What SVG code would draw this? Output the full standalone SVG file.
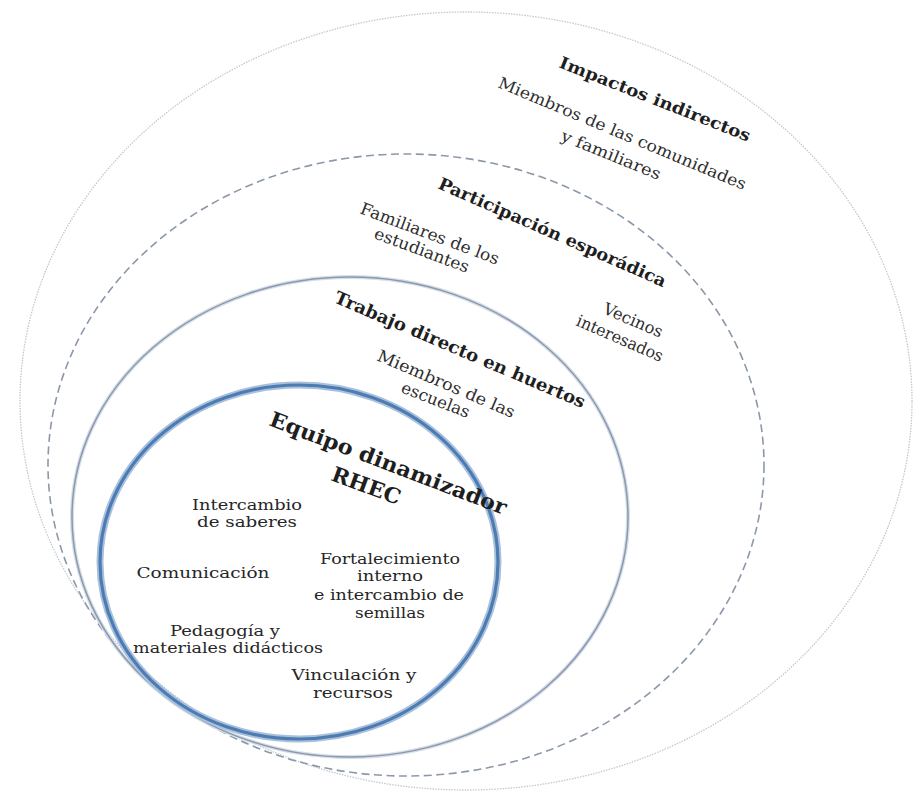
<svg xmlns="http://www.w3.org/2000/svg" width="919" height="794" viewBox="0 0 919 794">
<style>
.bg{fill:#ffffff}
.ring{fill:none}
.r1{stroke:#c3c8cf;stroke-width:1.3;stroke-dasharray:1.5 1.2}
.r2{stroke:#8c98a9;stroke-width:1.6;stroke-dasharray:8 4.5}
.r3h{stroke:#d7dee8;stroke-width:4}
.r3{stroke:#8a99af;stroke-width:1.5}
.r4h{stroke:#a9c1dd;stroke-width:7}
.r4{stroke:#4d7cb2;stroke-width:3.2}
.h{font-family:"DejaVu Serif","Liberation Serif",serif;font-weight:bold;fill:#1e1e1e}
.s{font-family:"DejaVu Serif","Liberation Serif",serif;fill:#2e2e2e}
.c{font-family:"DejaVu Serif","Liberation Serif",serif;fill:#262626;font-size:15.5px;text-anchor:middle}
</style>
<rect class="bg" x="0" y="0" width="919" height="794"/>

<g id="impactos-indirectos">
  <ellipse class="ring r1" cx="466" cy="401" rx="446" ry="389"/>
  <text class="h" font-size="16.5" textLength="204" lengthAdjust="spacingAndGlyphs" transform="translate(558,67) rotate(21.5)">Impactos indirectos</text>
  <text class="s" font-size="16" textLength="267" lengthAdjust="spacingAndGlyphs" transform="translate(497,87) rotate(22.7)">Miembros de las comunidades</text>
  <text class="s" font-size="16" textLength="106" lengthAdjust="spacingAndGlyphs" transform="translate(560,140) rotate(22.2)">y familiares</text>
</g>

<g id="participacion-esporadica">
  <ellipse class="ring r2" cx="406" cy="465" rx="358" ry="311"/>
  <text class="h" font-size="17" textLength="247" lengthAdjust="spacingAndGlyphs" transform="translate(437,188) rotate(23.7)">Participación esporádica</text>
  <text class="s" font-size="16.5" textLength="147" lengthAdjust="spacingAndGlyphs" transform="translate(359,213) rotate(20.6)">Familiares de los</text>
  <text class="s" font-size="16.5" textLength="100" lengthAdjust="spacingAndGlyphs" transform="translate(373,238) rotate(20.4)">estudiantes</text>
  <text class="s" font-size="16.5" textLength="63" lengthAdjust="spacingAndGlyphs" transform="translate(602,313) rotate(23.3)">Vecinos</text>
  <text class="s" font-size="16.5" textLength="93" lengthAdjust="spacingAndGlyphs" transform="translate(575,325) rotate(23.5)">interesados</text>
</g>

<g id="trabajo-directo">
  <ellipse class="ring r3h" cx="350" cy="517" rx="278" ry="240"/>
  <ellipse class="ring r3" cx="350" cy="517" rx="278" ry="240"/>
  <text class="h" font-size="17.5" textLength="271" lengthAdjust="spacingAndGlyphs" transform="translate(333,302) rotate(23.1)">Trabajo directo en huertos</text>
  <text class="s" font-size="16.5" textLength="148" lengthAdjust="spacingAndGlyphs" transform="translate(376,360) rotate(23.1)">Miembros de las</text>
  <text class="s" font-size="16.5" textLength="72" lengthAdjust="spacingAndGlyphs" transform="translate(400,392) rotate(21.2)">escuelas</text>
</g>

<g id="equipo-dinamizador">
  <ellipse class="ring r4h" cx="299" cy="562" rx="199" ry="177"/>
  <ellipse class="ring r4" cx="299" cy="562" rx="199" ry="177"/>
  <text class="h" font-size="21" textLength="252" lengthAdjust="spacingAndGlyphs" transform="translate(268,425) rotate(20.9)">Equipo dinamizador</text>
  <text class="h" font-size="21" textLength="72" lengthAdjust="spacingAndGlyphs" transform="translate(330,480) rotate(20.2)">RHEC</text>
  <text class="c" x="247" y="510" textLength="110" lengthAdjust="spacingAndGlyphs">Intercambio</text>
  <text class="c" x="247" y="527" textLength="100" lengthAdjust="spacingAndGlyphs">de saberes</text>
  <text class="c" x="203" y="578" textLength="133" lengthAdjust="spacingAndGlyphs">Comunicación</text>
  <text class="c" x="390" y="564" textLength="140" lengthAdjust="spacingAndGlyphs">Fortalecimiento</text>
  <text class="c" x="390" y="581" textLength="66" lengthAdjust="spacingAndGlyphs">interno</text>
  <text class="c" x="389" y="600" textLength="150" lengthAdjust="spacingAndGlyphs">e intercambio de</text>
  <text class="c" x="390" y="618" textLength="70" lengthAdjust="spacingAndGlyphs">semillas</text>
  <text class="c" x="225" y="636" textLength="110" lengthAdjust="spacingAndGlyphs">Pedagogía y</text>
  <text class="c" x="228" y="653" textLength="190" lengthAdjust="spacingAndGlyphs">materiales didácticos</text>
  <text class="c" x="354" y="680" textLength="125" lengthAdjust="spacingAndGlyphs">Vinculación y</text>
  <text class="c" x="353" y="698" textLength="80" lengthAdjust="spacingAndGlyphs">recursos</text>
</g>
</svg>
